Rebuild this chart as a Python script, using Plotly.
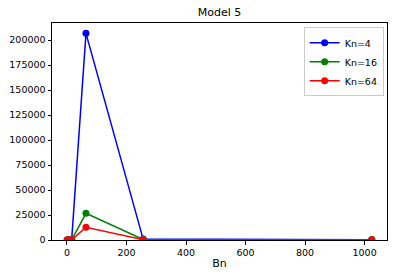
import plotly.graph_objects as go

bn = [1, 4, 16, 64, 256, 1024]
kn4 = [20, 80, 400, 206700, 900, 300]
kn16 = [10, 40, 200, 26700, 500, 200]
kn64 = [5, 20, 100, 12700, 300, 150]
series = [("Kn=4", kn4, "blue"), ("Kn=16", kn16, "green"), ("Kn=64", kn64, "red")]

fig = go.Figure()
for name, vals, col in series:
    fig.add_trace(go.Scatter(x=bn, y=vals, name=name, mode="lines+markers",
                             line=dict(color=col, width=1.5),
                             marker=dict(color=col, size=7)))

ymax = max(kn4)
fig.update_layout(
    width=394, height=278,
    margin=dict(l=52, r=7, t=23, b=38, autoexpand=False),
    paper_bgcolor="white", plot_bgcolor="white",
    font=dict(family="DejaVu Sans", size=9.5, color="black"),
    title=dict(text="Model 5", x=0.5, xref="paper", xanchor="center",
               y=1 - 12 / 278, yref="container", yanchor="middle",
               font=dict(size=11), automargin=False),
    showlegend=True,
    legend=dict(x=0.99, y=0.98, xanchor="right", yanchor="top",
                bgcolor="rgba(255,255,255,0.8)", bordercolor="#cccccc", borderwidth=1,
                font=dict(size=9.5), tracegroupgap=0, itemwidth=30),
    xaxis=dict(range=[-50.15, 1075.15], tickvals=[0, 200, 400, 600, 800, 1000],
               showgrid=False, zeroline=False, showline=True, linecolor="black",
               linewidth=1, mirror=True, ticks="outside", ticklen=3.5,
               tickcolor="black", automargin=False,
               title=dict(text="Bn", standoff=2)),
    yaxis=dict(range=[0, ymax * 1.05], tickvals=list(range(0, 200001, 25000)),
               tickformat="d", automargin=False,
               showgrid=False, zeroline=False, showline=True, linecolor="black",
               linewidth=1, mirror=True, ticks="outside", ticklen=3.5,
               tickcolor="black"),
)
fig.write_html("out.html", config={"displayModeBar": False},
               post_script="document.body.style.margin='0';")
